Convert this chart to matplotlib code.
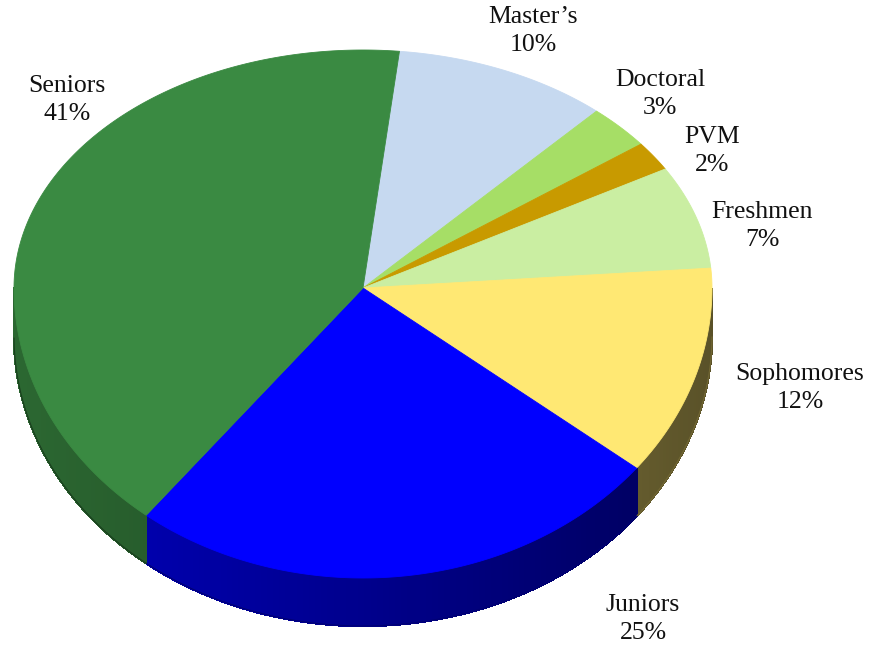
import numpy as np
import matplotlib.pyplot as plt
from matplotlib.patches import Polygon
from matplotlib.colors import to_rgb

# enrolment share by level, clockwise from the top
labels = ["Master\u2019s", "Doctoral", "PVM", "Freshmen", "Sophomores", "Juniors", "Seniors"]
shares = [10, 3, 2, 7, 12, 25, 41]
colors = ["#C6D9F0", "#A6DE66", "#C89A00", "#CAEEA2", "#FFE873", "#0000FF", "#3A8A42"]
label_pos = [(533, 31), (660, 94), (712, 151), (762, 226), (800, 388), (643, 619), (67, 100)]

# tilted pie geometry (pixels)
cx, cy = 363, 288
rx, ry_back, ry_front = 349, 238, 290
depth = 48
start = 84


def proj(t, dz=0.0):
    t = np.radians(t)
    s = np.sin(t)
    ry = np.where(s > 0, ry_back, ry_front)
    return cx + rx * np.cos(t), cy - ry * s + dz


fig = plt.figure(figsize=(8.69, 6.46), dpi=100)
ax = fig.add_axes([0, 0, 1, 1])
ax.set_xlim(0, 869)
ax.set_ylim(646, 0)
ax.axis("off")

bounds = start - 3.6 * np.concatenate([[0], np.cumsum(shares)])

# outer wall, only the front half shows
for i, c in enumerate(colors):
    a0, a1 = bounds[i], bounds[i + 1]
    ts = np.linspace(a0, a1, max(int(abs(a0 - a1)), 2))
    base = np.array(to_rgb(c))
    for t0, t1 in zip(ts[:-1], ts[1:]):
        if np.sin(np.radians((t0 + t1) / 2)) > 0:
            continue
        x0, y0 = proj(t0)
        x1, y1 = proj(t1)
        f = 0.55 - 0.2 * np.cos(np.radians((t0 + t1) / 2))
        col = np.clip(base * f, 0, 1)
        ax.add_patch(Polygon([(x0, y0 - 1), (x1, y1 - 1), (x1, y1 + depth), (x0, y0 + depth)],
                             closed=True, facecolor=col, edgecolor=col, lw=1.0,
                             antialiased=False))
    # smooth outline of the wall
    tw = np.linspace(a0, a1, 200)
    tw = tw[np.sin(np.radians(tw)) <= 0]
    if len(tw):
        bx, by = proj(tw)
        ax.plot(bx, by + depth, color=np.clip(base * 0.45, 0, 1), lw=0.8)

# top faces
for i, c in enumerate(colors):
    a0, a1 = bounds[i], bounds[i + 1]
    ts = np.linspace(a0, a1, max(int(abs(a0 - a1) * 2), 2))
    xs, ys = proj(ts)
    pts = [(cx, cy)] + list(zip(xs, ys))
    ax.add_patch(Polygon(pts, closed=True, facecolor=c, edgecolor=c, lw=0.6))

for lab, v, (lx, ly) in zip(labels, shares, label_pos):
    ax.text(lx, ly, f"{lab}\n{v}%", ha="center", va="center", fontsize=18.5,
            family="Liberation Serif", color="#111111", linespacing=1.3)

fig.savefig("out.png", dpi=100, facecolor="white")
